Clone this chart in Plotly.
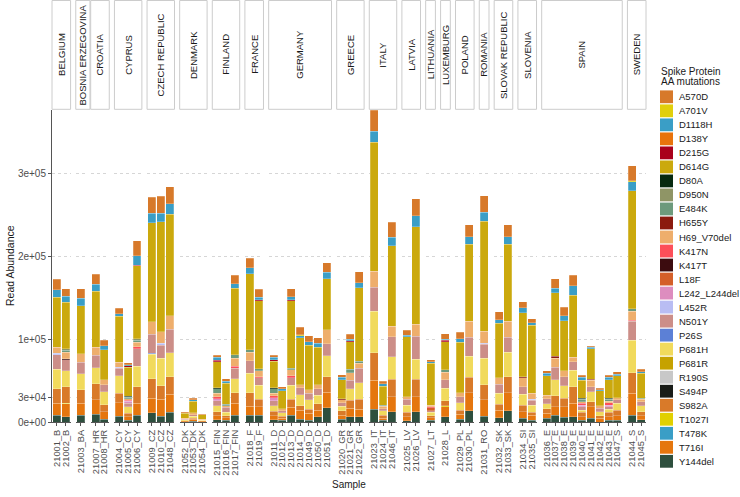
import plotly.graph_objects as go

# ---------------- data ----------------
countries = ["BELGIUM", "BOSNIA ERZEGOVINA", "CROATIA", "CYPRUS", "CZECH REPUBLIC",
             "DENMARK", "FINLAND", "FRANCE", "GERMANY", "GREECE", "ITALY", "LATVIA",
             "LITHUANIA", "LUXEMBURG", "POLAND", "ROMANIA", "SLOVAK REPUBLIC",
             "SLOVENIA", "SPAIN", "SWEDEN"]

samples = ["21001_B", "21002_B", "21003_BA", "21007_HR", "21008_HR",
           "21004_CY", "21005_CY", "21006_CY", "21009_CZ", "21010_CZ", "21048_CZ",
           "21052_DK", "21053_DK", "21054_DK", "21015_FIN", "21016_FIN", "21017_FIN",
           "21018_F", "21019_F", "21011_D", "21012_D", "21013_D", "21014_D",
           "21049_D", "21050_D", "21051_D", "21020_GR", "21021_GR", "21022_GR",
           "21023_IT", "21024_IT", "21046_IT", "21025_LV", "21026_LV", "21027_LT",
           "21028_L", "21029_PL", "21030_PL", "21031_RO", "21032_SK", "21033_SK",
           "21034_SI", "21035_SI", "21036_E", "21037_E", "21038_E", "21039_E",
           "21040_E", "21041_E", "21042_E", "21043_E", "21047_S", "21044_S", "21045_S"]

sample_country = (["BELGIUM"] * 2 + ["BOSNIA ERZEGOVINA"] + ["CROATIA"] * 2 + ["CYPRUS"] * 3 +
                  ["CZECH REPUBLIC"] * 3 + ["DENMARK"] * 3 + ["FINLAND"] * 3 + ["FRANCE"] * 2 +
                  ["GERMANY"] * 7 + ["GREECE"] * 3 + ["ITALY"] * 3 + ["LATVIA"] * 2 +
                  ["LITHUANIA"] + ["LUXEMBURG"] + ["POLAND"] * 2 + ["ROMANIA"] +
                  ["SLOVAK REPUBLIC"] * 2 + ["SLOVENIA"] * 2 + ["SPAIN"] * 9 + ["SWEDEN"] * 2)

mutations = ["A570D", "A701V", "D1118H", "D138Y", "D215G", "D614G", "D80A", "D950N",
             "E484K", "H655Y", "H69_V70del", "K417N", "K417T", "L18F", "L242_L244del",
             "L452R", "N501Y", "P26S", "P681H", "P681R", "R190S", "S494P", "S982A",
             "T1027I", "T478K", "T716I", "Y144del"]

mutation_colors = ["#d7792a", "#e1cf0b", "#3a9ec6", "#e8730c", "#a9001c", "#cba90d",
                   "#06290f", "#8f9566", "#6d9a7c", "#8b1a0f", "#eeae6c", "#fd4f59",
                   "#3c0c0f", "#d45f29", "#dd8dbf", "#b9bdf3", "#cc8e88", "#5c80d6",
                   "#f1da5c", "#c6a200", "#c8c8c8", "#191c17", "#d97a29", "#e1d000",
                   "#3a9ec6", "#e5760e", "#2e4f3e"]

# read abundance, in thousands of reads (one value per sample, in sample order)
A570D = [12.6, 8.9, 11.3, 12.2, 6.5, 6.5, 2.4, 18.2, 19.3, 21.0, 20.6, 0.8, 1.6, 0.8,
         2.8, 2.8, 10.1, 11.7, 9.7, 2.4, 2.4, 9.7, 8.9, 7.3, 6.9, 11.7, 3.2, 6.0, 13.3,
         25.4, 2.8, 18.1, 6.0, 20.2, 2.0, 6.1, 7.7, 14.5, 20.2, 9.7, 14.5, 7.3, 4.8,
         3.2, 11.7, 10.1, 12.6, 2.4, 1.2, 2.4, 2.4, 2.8, 18.5, 3.0]
D1118H = [8.9, 7.3, 8.9, 8.5, 4.9, 3.2, 1.6, 11.3, 11.3, 10.1, 12.9, 0.6, 2.0, 0,
          3.2, 2.4, 5.7, 7.3, 3.2, 3.2, 2.4, 3.2, 2.4, 4.0, 4.9, 7.7, 2.8, 1.6, 6.0,
          13.7, 3.2, 10.1, 2.0, 13.3, 2.0, 1.6, 4.5, 8.9, 10.9, 4.0, 8.9, 6.0, 2.8,
          2.8, 5.3, 6.1, 11.3, 3.2, 1.6, 1.2, 3.2, 1.6, 10.5, 2.0]
D614G = [60.8, 56.3, 58.3, 68.0, 36.5, 55.9, 34.8, 88.3, 120.0, 133.0, 122.5, 6.1, 13.8, 5.7,
         31.2, 25.1, 80.2, 91.9, 82.6, 31.6, 21.5, 81.4, 57.1, 54.3, 45.0, 61.6, 23.4, 33.4, 88.7,
         155.6, 23.0, 97.1, 72.5, 117.7, 51.0, 34.0, 60.8, 93.1, 133.0, 65.7, 93.1, 77.4, 82.6,
         23.9, 77.0, 60.8, 74.9, 21.9, 36.9, 17.8, 21.9, 26.7, 142.7, 30.0]
H69_V70del = [7.3, 8.1, 10.5, 9.7, 5.7, 5.7, 1.6, 5.7, 14.9, 14.1, 16.5, 1.2, 2.4, 0.8,
              4.0, 2.0, 10.1, 10.5, 7.3, 3.2, 2.4, 7.3, 3.2, 4.0, 5.3, 17.0, 4.0, 8.9, 6.0,
              19.7, 2.8, 12.9, 2.8, 14.5, 1.6, 8.9, 4.9, 19.0, 14.2, 7.7, 19.4, 10.9, 6.9,
              4.0, 10.5, 6.9, 5.7, 2.0, 7.7, 3.2, 2.0, 2.8, 10.5, 3.0]
N501Y = [17.4, 13.4, 13.8, 14.6, 8.9, 8.9, 4.0, 21.5, 23.0, 16.1, 28.2, 0.8, 2.0, 0,
         5.7, 5.7, 12.6, 15.0, 8.9, 6.1, 2.8, 8.9, 8.9, 8.1, 7.7, 14.6, 4.0, 10.5, 17.3,
         28.6, 2.8, 24.2, 7.3, 28.2, 1.6, 10.5, 7.3, 23.5, 16.6, 11.3, 18.2, 8.9, 6.0,
         6.5, 15.4, 10.9, 10.5, 4.0, 6.1, 4.0, 3.2, 4.0, 23.0, 5.0]
P681H = [23.9, 19.4, 19.4, 19.8, 15.4, 21.1, 8.1, 24.3, 29.8, 33.0, 29.0, 0.8, 2.0, 0.8,
         7.3, 4.5, 16.6, 23.5, 17.0, 6.9, 4.0, 17.0, 13.0, 11.3, 10.5, 25.1, 5.6, 13.7, 20.2,
         50.4, 5.2, 27.0, 8.9, 24.2, 4.5, 15.0, 8.9, 25.1, 32.4, 12.9, 29.2, 13.3, 8.9,
         5.7, 19.0, 15.4, 19.4, 2.8, 12.2, 4.9, 3.6, 8.1, 39.5, 7.0]
S982A = [17.4, 19.8, 16.2, 19.4, 8.5, 11.3, 4.0, 20.3, 23.8, 16.1, 21.0, 0, 1.2, 0,
         4.9, 2.4, 13.0, 16.2, 8.9, 5.3, 2.4, 9.7, 5.3, 4.9, 7.3, 19.0, 5.6, 10.1, 11.7,
         33.0, 4.0, 21.4, 5.2, 21.0, 2.4, 5.7, 5.3, 18.6, 18.2, 7.3, 19.4, 8.1, 3.2,
         5.7, 13.4, 10.1, 20.3, 5.3, 6.1, 3.0, 5.3, 6.9, 25.0, 5.0]
T716I = [14.2, 15.4, 14.2, 17.4, 8.9, 16.2, 4.5, 14.2, 17.3, 20.6, 22.2, 1.2, 2.4, 1.0,
         4.9, 3.2, 14.2, 10.9, 10.1, 4.9, 2.8, 9.3, 10.9, 8.1, 8.1, 18.6, 4.4, 10.1, 9.3,
         35.5, 2.4, 18.1, 4.8, 18.1, 3.2, 12.2, 6.1, 21.9, 19.4, 9.3, 21.9, 8.1, 6.0,
         5.7, 10.1, 13.0, 16.2, 4.0, 14.2, 4.6, 4.5, 5.3, 26.2, 5.0]
Y144del = [8.4, 6.4, 8.4, 9.2, 3.5, 7.2, 1.9, 8.4, 11.2, 7.1, 11.6, 0.6, 1.1, 0.5,
           2.7, 1.9, 8.4, 8.4, 8.4, 2.7, 1.9, 8.4, 3.5, 2.3, 6.4, 17.3, 3.5, 6.3, 6.3,
           15.2, 1.9, 12.4, 1.5, 12.4, 1.9, 6.4, 3.1, 13.6, 7.2, 5.1, 13.6, 4.3, 2.3,
           4.7, 8.4, 5.5, 6.4, 2.3, 4.3, 0, 1.9, 2.3, 8.3, 2.5]

# sparse mutations: sample -> thousands of reads
A701V = {"21014_D": 1.2, "21044_S": 1.2}
D215G = {"21005_CY": 1.6, "21006_CY": 0.8, "21015_FIN": 2.0, "21019_F": 1.0,
         "21011_D": 2.0, "21013_D": 1.6, "21021_GR": 1.2, "21028_L": 1.6}
D80A = {"21005_CY": 1.2, "21015_FIN": 1.6, "21011_D": 1.6, "21040_E": 1.2, "21043_E": 1.2}
D950N = {"21002_B": 1.5, "21006_CY": 1.5}
E484K = {"21002_B": 2.5, "21005_CY": 2.0, "21006_CY": 2.5, "21015_FIN": 5.3, "21016_FIN": 2.0,
         "21017_FIN": 4.0, "21018_F": 2.8, "21019_F": 2.0, "21011_D": 5.3, "21013_D": 2.0,
         "21021_GR": 4.0, "21022_GR": 2.8, "21024_IT": 1.2, "21028_L": 3.2, "21040_E": 3.2,
         "21043_E": 2.4, "21044_S": 3.2, "21045_S": 1.5}
H655Y = {"21020_GR": 0.8, "21034_SI": 1.2, "21037_E": 2.4, "21041_E": 1.2}
K417N = {"21005_CY": 1.6, "21006_CY": 2.0, "21015_FIN": 2.8, "21017_FIN": 2.4, "21019_F": 1.6,
         "21011_D": 2.4, "21013_D": 2.4, "21027_LT": 1.2, "21040_E": 2.0, "21043_E": 2.8,
         "21044_S": 1.2}
K417T = {"21002_B": 1.0}
L18F = {"21027_LT": 3.6}
L242_L244del = {"21005_CY": 2.4, "21015_FIN": 2.4, "21011_D": 3.2, "21040_E": 2.0, "21043_E": 2.0}
L452R = {"21001_B": 1.5, "21004_CY": 1.6, "21010_CZ": 2.0, "21031_RO": 1.6, "21035_SI": 1.2}
P26S = {"21009_CZ": 1.0}
T1027I = {"21002_B": 1.0, "21028_L": 1.2}
D138Y = {}
P681R = {}
R190S = {}
S494P = {}
T478K = {}

tick_values = [0, 30000, 100000, 200000, 300000]
tick_labels = ["0e+00", "3e+04", "1e+05", "2e+05", "3e+05"]

series = {"A570D": A570D, "A701V": A701V, "D1118H": D1118H, "D138Y": D138Y, "D215G": D215G,
          "D614G": D614G, "D80A": D80A, "D950N": D950N, "E484K": E484K, "H655Y": H655Y,
          "H69_V70del": H69_V70del, "K417N": K417N, "K417T": K417T, "L18F": L18F,
          "L242_L244del": L242_L244del, "L452R": L452R, "N501Y": N501Y, "P26S": P26S,
          "P681H": P681H, "P681R": P681R, "R190S": R190S, "S494P": S494P, "S982A": S982A,
          "T1027I": T1027I, "T478K": T478K, "T716I": T716I, "Y144del": Y144del}


def full(vals):
    if isinstance(vals, dict):
        return [vals.get(s, 0) * 1000 for s in samples]
    assert len(vals) == len(samples)
    return [v * 1000 for v in vals]


reads = {m: full(series[m]) for m in mutations}
totals = [sum(reads[m][i] for m in mutations) for i in range(len(samples))]
ymax = max(totals)

# ---------------- layout geometry ----------------
W, H = 740, 497
ML, MR, MT, MB = 52, 94, 0, 75
PW, PH = W - ML - MR, H - MT - MB
PANEL_TOP = 110          # px from top of plot area
STRIP_BOTTOM = 109.3
UNIT = 8.85              # px per sample
PAD = 0.05               # category units on each side of a panel

counts = [sample_country.count(c) for c in countries]
gap = (PW - UNIT * (sum(counts) + 2 * PAD * len(countries))) / (len(countries) - 1)

FONT = "Liberation Sans, Arial, sans-serif"
fig = go.Figure()
layout = {}
shapes = []
annotations = []


def py(px_from_top):
    return (PH - px_from_top) / PH


def clamp(v):
    return min(1.0, max(0.0, v))


def label(text, xpx, ypx, size, angle=0, xanchor="center", color="#1a1a1a"):
    return dict(text=text, xref="paper", yref="paper", x=xpx / PW, y=py(ypx),
                textangle=angle, xanchor=xanchor, yanchor="middle", showarrow=False,
                borderpad=0, font=dict(size=size, color=color, family=FONT))


x_cursor = 0.0
panel_edges = []
for ci, country in enumerate(countries):
    n = counts[ci]
    wpx = UNIT * (n + 2 * PAD)
    x0, x1 = x_cursor, x_cursor + wpx
    panel_edges.append((x0, x1))
    x_cursor = x1 + gap

for ci, country in enumerate(countries):
    x0, x1 = panel_edges[ci]
    axname = "x" if ci == 0 else f"x{ci + 1}"
    laykey = "xaxis" if ci == 0 else f"xaxis{ci + 1}"
    idx = [i for i, c in enumerate(sample_country) if c == country]
    cats = [samples[i] for i in idx]
    n = len(cats)
    layout[laykey] = dict(
        domain=[clamp(x0 / PW), clamp(x1 / PW)], anchor="y", type="category",
        categoryorder="array", categoryarray=cats,
        tickmode="array", tickvals=cats, ticktext=cats,
        range=[-0.5 - PAD, n - 0.5 + PAD],
        tickangle=-90, tickfont=dict(size=9.3, color="#4d4d4d", family=FONT),
        showline=True, linecolor="#555555", linewidth=1,
        ticks="outside", ticklen=3, tickcolor="#555555", tickwidth=1,
        showgrid=False, zeroline=False, fixedrange=True, automargin=False,
    )
    # stacked bars: bottom of the stack is the last legend entry
    for m, col in zip(reversed(mutations), reversed(mutation_colors)):
        vals = [reads[m][i] for i in idx]
        if not any(vals):
            continue
        fig.add_trace(go.Bar(
            x=cats, y=[v if v else None for v in vals], name=m,
            marker=dict(color=col, line=dict(color="rgba(255,255,255,0.75)", width=0.3)),
            xaxis=axname, yaxis="y", showlegend=False,
            hovertemplate=f"{m}<br>%{{x}}: %{{y}}<extra></extra>",
        ))
    # facet strip
    sx1 = x1
    if country == "BOSNIA ERZEGOVINA":
        sx1 = panel_edges[ci + 1][0] - 0.7
    shapes.append(dict(type="rect", xref="paper", yref="paper",
                       x0=x0 / PW, x1=sx1 / PW, y0=py(STRIP_BOTTOM), y1=py(0.5),
                       line=dict(color="#cccccc", width=1), fillcolor="white", layer="below"))
    annotations.append(label(country, (x0 + sx1) / 2, STRIP_BOTTOM / 2, 9.5, angle=-90))

layout["yaxis"] = dict(
    domain=[0, py(PANEL_TOP)], anchor="x", range=[0, ymax],
    tickmode="array", tickvals=tick_values, ticktext=tick_labels,
    tickfont=dict(size=10, color="#4d4d4d", family=FONT),
    showline=True, linecolor="#555555", linewidth=1,
    ticks="outside", ticklen=3, tickcolor="#555555",
    showgrid=True, gridcolor="#d6d6d6", griddash="dot", gridwidth=0.8,
    zeroline=False, fixedrange=True, automargin=False,
)

# axis titles
annotations.append(label("Read Abundance", 10 - ML, (PANEL_TOP + PH) / 2, 10.5, angle=-90))
annotations.append(label("Sample", PW / 2, 485, 10))

# legend (drawn by hand to match the compact key spacing)
LEG_X = 660 - ML
annotations.append(label("Spike Protein", LEG_X, 71, 10, xanchor="left"))
annotations.append(label("AA mutations", LEG_X, 81.5, 10, xanchor="left"))
for k, (m, col) in enumerate(zip(mutations, mutation_colors)):
    cy = 96.8 + 14.02 * k
    shapes.append(dict(type="rect", xref="paper", yref="paper",
                       x0=LEG_X / PW, x1=(LEG_X + 13) / PW,
                       y0=py(cy + 6.4), y1=py(cy - 6.4),
                       line=dict(width=0), fillcolor=col))
    annotations.append(label(m, LEG_X + 18, cy, 9.5, xanchor="left"))

fig.update_layout(
    width=W, height=H, margin=dict(l=ML, r=MR, t=MT, b=MB, autoexpand=False),
    paper_bgcolor="white", plot_bgcolor="white",
    barmode="stack", bargap=0.1, showlegend=False,
    shapes=shapes, annotations=annotations,
    font=dict(family=FONT),
    **layout,
)

fig.write_html("out.html", config={"displayModeBar": False},
               post_script="document.body.style.margin='0px';"
                           "document.body.style.padding='0px';")
